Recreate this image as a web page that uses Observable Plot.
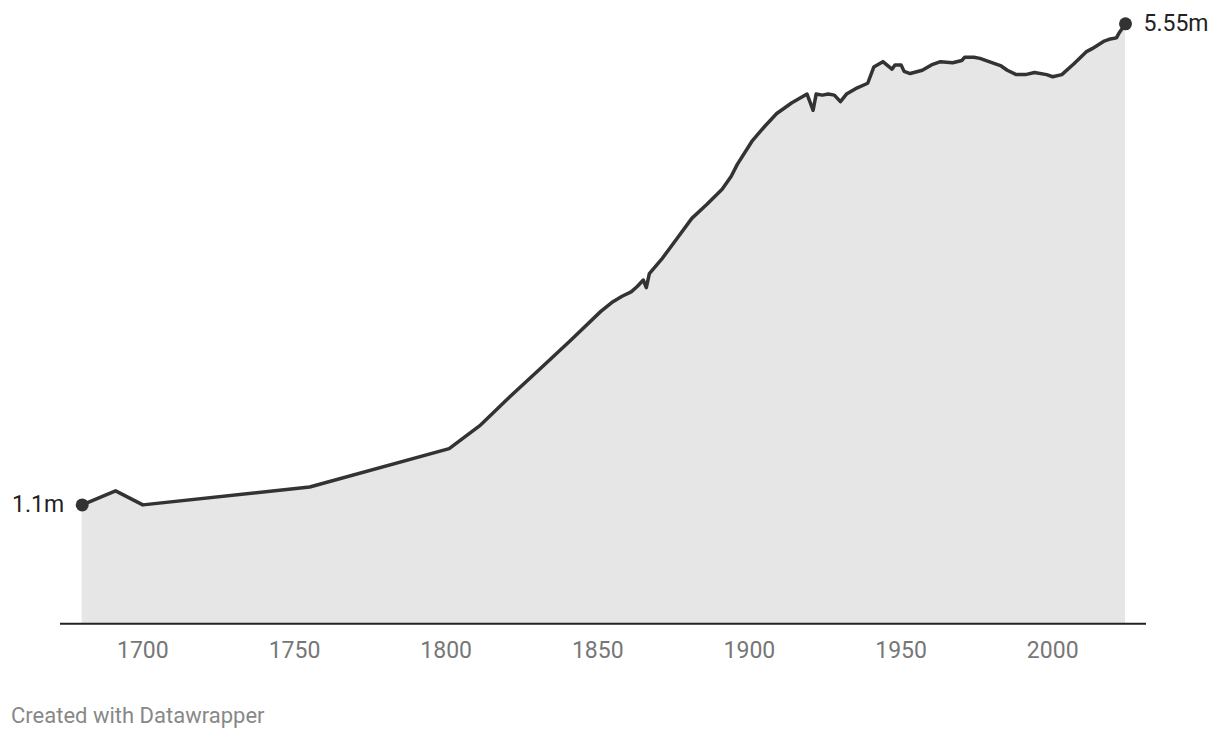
<!DOCTYPE html>
<html>
<head>
<meta charset="utf-8">
<script src="https://cdn.jsdelivr.net/npm/d3@7"></script>
<script src="https://cdn.jsdelivr.net/npm/@observablehq/plot@0.6"></script>
<style>
  html, body { margin: 0; padding: 0; background: #fff; }
  #chart { width: 1220px; height: 680px; }
  #chart svg { display: block; }
  .credit { font-family: Roboto, sans-serif; font-size: 22px; color: #888; margin: 23px 0 0 11px; line-height: 26px; }
</style>
</head>
<body>
<div id="chart"></div>
<div class="credit">Created with Datawrapper</div>
<script>
const years = [1680, 1691, 1700, 1755, 1801, 1811, 1821, 1831, 1841, 1851, 1855, 1858, 1861, 1863, 1865, 1866, 1867,
  1871, 1876, 1881, 1886, 1891, 1894, 1896, 1901, 1905, 1909, 1914, 1919, 1921, 1922, 1924, 1926, 1928, 1930,
  1932, 1935, 1939, 1941, 1944, 1947, 1948, 1950, 1951, 1953, 1957, 1960, 1963, 1967, 1970, 1971, 1974, 1976,
  1979, 1983, 1985, 1988, 1991, 1994, 1998, 2000, 2003, 2007, 2011, 2013, 2017, 2019, 2021, 2022, 2024];
const population = [1.10, 1.23, 1.10, 1.265, 1.62, 1.83, 2.10, 2.36, 2.62, 2.89, 2.98, 3.03, 3.07, 3.12, 3.18, 3.11, 3.24,
  3.37, 3.56, 3.75, 3.88, 4.02, 4.14, 4.25, 4.47, 4.60, 4.72, 4.82, 4.90, 4.75, 4.90, 4.89, 4.90, 4.89, 4.83,
  4.90, 4.95, 5.00, 5.15, 5.20, 5.13, 5.17, 5.17, 5.11, 5.09, 5.12, 5.17, 5.20, 5.19, 5.21, 5.24, 5.24, 5.23,
  5.20, 5.16, 5.12, 5.08, 5.08, 5.10, 5.08, 5.06, 5.08, 5.18, 5.29, 5.32, 5.39, 5.41, 5.42, 5.47, 5.55];
const tickYears = [1700, 1750, 1800, 1850, 1900, 1950, 2000];
const endLabels = ["1.1m", "5.55m"];

const data = years.map((year, i) => ({year, pop: population[i]}));
const first = data[0], last = data[data.length - 1];

const chart = Plot.plot({
  width: 1220,
  height: 680,
  marginTop: 23,
  marginBottom: 57,
  marginLeft: 60,
  marginRight: 74,
  style: {fontFamily: "Roboto, sans-serif", fontSize: "23px", background: "#fff", overflow: "visible"},
  x: {domain: [1680, 2024], range: [81.7, 1125], axis: null},
  y: {domain: [0, 5.55], range: [623.3, 23.3], axis: null},
  marks: [
    Plot.areaY(data, {x: "year", y: "pop", fill: "#e6e6e6"}),
    Plot.ruleY([0], {stroke: "#222", strokeWidth: 2}),
    Plot.lineY(data, {x: "year", y: "pop", stroke: "#333", strokeWidth: 3.5, strokeLinejoin: "round", strokeLinecap: "round"}),
    Plot.dot([first, last], {x: "year", y: "pop", r: 6.5, fill: "#333", stroke: null}),
    Plot.text([first], {x: "year", y: "pop", text: () => endLabels[0], textAnchor: "end", dx: -18, fill: "#222", fontSize: 23}),
    Plot.text([last], {x: "year", y: "pop", text: () => endLabels[1], textAnchor: "start", dx: 18, fill: "#222", fontSize: 23}),
    Plot.axisX({ticks: tickYears, tickFormat: d => String(d), tickSize: 0, tickPadding: 18, fill: "#777", fontSize: 23, label: null})
  ]
});
document.getElementById("chart").appendChild(chart);
</script>
</body>
</html>
